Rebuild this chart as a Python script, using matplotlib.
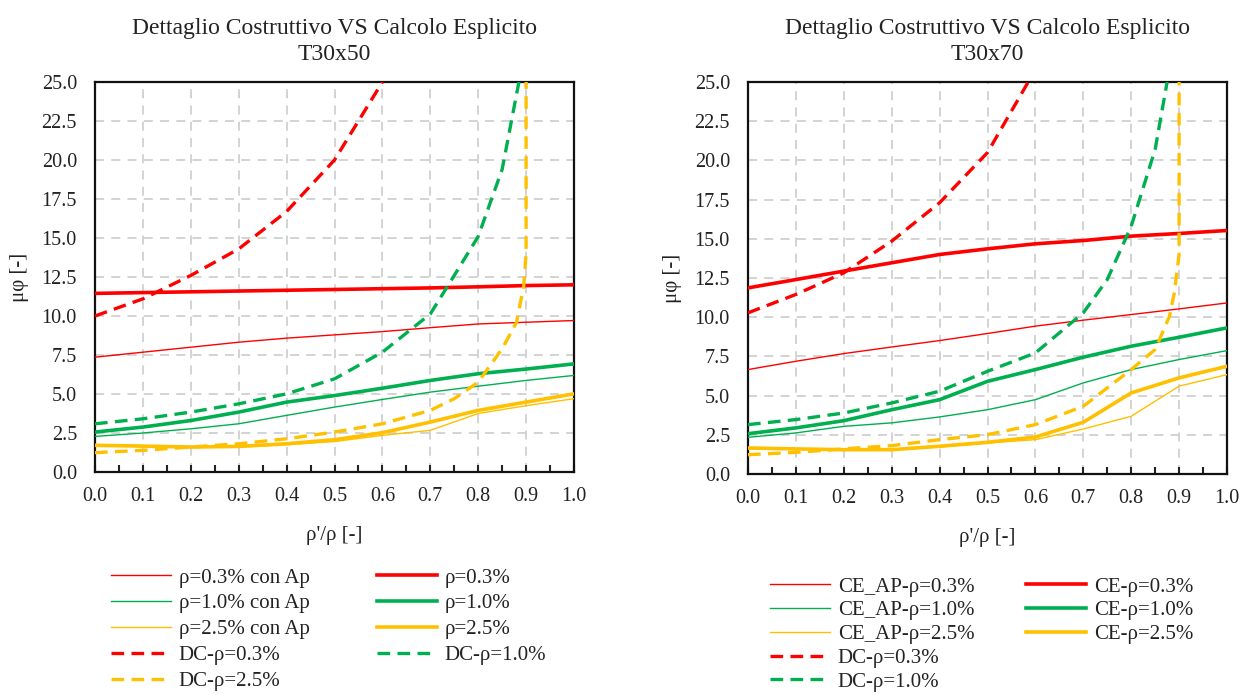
import matplotlib.pyplot as plt
from matplotlib.ticker import MultipleLocator

plt.rcParams['font.family'] = ['Liberation Serif', 'DejaVu Serif']

RED, GREEN, YELLOW = "#FF0000", "#00B050", "#FFC000"

rho_ratio = [0.0, 0.1, 0.2, 0.3, 0.4, 0.5, 0.6, 0.7, 0.8, 0.9, 1.0]

# --- T30x50 ---
t50_ce_03 = [11.45, 11.5, 11.55, 11.6, 11.65, 11.7, 11.75, 11.8, 11.87, 11.95, 12.0]
t50_ce_10 = [2.56, 2.88, 3.3, 3.84, 4.48, 4.9, 5.37, 5.87, 6.3, 6.6, 6.93]
t50_ce_25 = [1.71, 1.66, 1.6, 1.64, 1.81, 2.07, 2.52, 3.2, 3.95, 4.48, 5.01]
t50_ap_03 = [7.36, 7.68, 8.0, 8.32, 8.58, 8.79, 9.0, 9.25, 9.49, 9.6, 9.71]
t50_ap_10 = [2.28, 2.5, 2.77, 3.09, 3.63, 4.16, 4.65, 5.12, 5.5, 5.87, 6.19]
t50_ap_25 = [1.7, 1.65, 1.6, 1.6, 1.75, 1.95, 2.35, 2.67, 3.75, 4.25, 4.7]

t50_dc_03_x = [0.0, 0.1, 0.2, 0.3, 0.4, 0.5, 0.6]
t50_dc_03 = [10.0, 11.1, 12.6, 14.3, 16.7, 20.0, 25.0]
t50_dc_10_x = [0.0, 0.1, 0.2, 0.3, 0.4, 0.5, 0.6, 0.7, 0.75, 0.8, 0.85, 0.885]
t50_dc_10 = [3.09, 3.41, 3.84, 4.37, 5.01, 5.97, 7.68, 10.13, 12.6, 15.1, 19.4, 25.0]
t50_dc_25_x = [0.0, 0.1, 0.2, 0.3, 0.4, 0.5, 0.6, 0.7, 0.75, 0.8, 0.85, 0.88, 0.895, 0.9, 0.9]
t50_dc_25 = [1.24, 1.39, 1.6, 1.81, 2.13, 2.56, 3.09, 3.95, 4.7, 5.76, 7.9, 9.6, 11.9, 14.0, 25.0]

# --- T30x70 ---
t70_ce_03 = [11.87, 12.4, 12.94, 13.47, 14.0, 14.36, 14.68, 14.89, 15.17, 15.34, 15.53]
t70_ce_10 = [2.57, 2.94, 3.4, 4.1, 4.74, 5.91, 6.66, 7.45, 8.15, 8.72, 9.32]
t70_ce_25 = [1.66, 1.6, 1.55, 1.55, 1.77, 2.02, 2.36, 3.3, 5.17, 6.13, 6.87]
t70_ap_03 = [6.66, 7.19, 7.68, 8.1, 8.51, 8.96, 9.43, 9.81, 10.17, 10.53, 10.91]
t70_ap_10 = [2.34, 2.62, 3.04, 3.26, 3.64, 4.1, 4.74, 5.81, 6.66, 7.3, 7.87]
t70_ap_25 = [1.6, 1.58, 1.55, 1.55, 1.72, 1.98, 2.19, 2.87, 3.68, 5.6, 6.34]

t70_dc_03_x = [0.0, 0.1, 0.2, 0.3, 0.4, 0.5, 0.585]
t70_dc_03 = [10.28, 11.45, 12.83, 14.85, 17.3, 20.5, 25.0]
t70_dc_10_x = [0.0, 0.1, 0.2, 0.3, 0.4, 0.5, 0.6, 0.7, 0.75, 0.8, 0.85, 0.875]
t70_dc_10 = [3.15, 3.47, 3.89, 4.53, 5.28, 6.55, 7.72, 10.28, 12.4, 15.8, 20.7, 25.0]
t70_dc_25_x = [0.0, 0.1, 0.2, 0.3, 0.4, 0.5, 0.6, 0.7, 0.8, 0.85, 0.88, 0.89, 0.9, 0.9]
t70_dc_25 = [1.23, 1.38, 1.6, 1.81, 2.19, 2.51, 3.15, 4.32, 6.66, 7.94, 10.06, 11.55, 14.0, 25.0]

THIN, THICK, DASH = 1.0, 2.6, 2.4
dash = (0, (3.8, 2.2))

W, H = 1242, 695
fig = plt.figure(figsize=(W / 100, H / 100), dpi=100)
# posizione assi in pixel: sinistra, alto, destra, basso
ax1 = fig.add_axes([95 / W, 1 - 472 / H, 479 / W, 390 / H])
ax2 = fig.add_axes([748 / W, 1 - 474 / H, 479 / W, 392 / H])


def draw(ax, title, ce, ap, dc):
    h = {}
    for key, ys, c in zip(("ap03", "ap10", "ap25"), ap, (RED, GREEN, YELLOW)):
        h[key], = ax.plot(rho_ratio, ys, color=c, lw=THIN, zorder=3)
    for key, ys, c in zip(("ce03", "ce10", "ce25"), ce, (RED, GREEN, YELLOW)):
        h[key], = ax.plot(rho_ratio, ys, color=c, lw=THICK, zorder=4)
    for key, (xs, ys), c in zip(("dc03", "dc10", "dc25"), dc, (RED, GREEN, YELLOW)):
        h[key], = ax.plot(xs, ys, color=c, lw=DASH, ls=dash, zorder=5)

    ax.set_xlim(0, 1)
    ax.set_ylim(0, 25)
    ax.xaxis.set_major_locator(MultipleLocator(0.1))
    ax.xaxis.set_minor_locator(MultipleLocator(0.05))
    ax.yaxis.set_major_locator(MultipleLocator(2.5))
    ax.xaxis.set_major_formatter(lambda v, p: f"{v:.1f}")
    ax.yaxis.set_major_formatter(lambda v, p: f"{v:.1f}")
    ax.tick_params(axis="x", which="both", direction="in", length=5, width=1.5,
                   labelsize=14.5, pad=11, colors="#222222", labelcolor="#222222")
    ax.tick_params(axis="y", length=0, labelsize=14.5, pad=13, labelcolor="#222222")
    ax.grid(True, which="major", color="#D0D0D0", ls=(0, (5, 4)), lw=1.3)
    for s in ax.spines.values():
        s.set_linewidth(1.6)
        s.set_color("#111111")
    ax.set_title(title, fontsize=17, pad=16, linespacing=1.3, color="#222222")
    ax.set_xlabel("ρ'/ρ [-]", fontsize=15, labelpad=14, color="#222222")
    ax.set_ylabel("μφ [-]", fontsize=15, labelpad=9, color="#222222")
    return h


h1 = draw(ax1, "Dettaglio Costruttivo VS Calcolo Esplicito\nT30x50",
          (t50_ce_03, t50_ce_10, t50_ce_25),
          (t50_ap_03, t50_ap_10, t50_ap_25),
          ((t50_dc_03_x, t50_dc_03), (t50_dc_10_x, t50_dc_10), (t50_dc_25_x, t50_dc_25)))
h2 = draw(ax2, "Dettaglio Costruttivo VS Calcolo Esplicito\nT30x70",
          (t70_ce_03, t70_ce_10, t70_ce_25),
          (t70_ap_03, t70_ap_10, t70_ap_25),
          ((t70_dc_03_x, t70_dc_03), (t70_dc_10_x, t70_dc_10), (t70_dc_25_x, t70_dc_25)))

leg_kw = dict(loc="upper left", frameon=False, fontsize=15, handlelength=2.9,
              handletextpad=0.35, borderpad=0, borderaxespad=0, labelcolor="#222222")

# legenda T30x50, due colonne
fig.legend([h1[k] for k in ("ap03", "ap10", "ap25", "dc03", "dc25")],
           ["ρ=0.3% con Ap", "ρ=1.0% con Ap", "ρ=2.5% con Ap", "DC-ρ=0.3%", "DC-ρ=2.5%"],
           bbox_to_anchor=(111 / W, 1 - 568 / H), labelspacing=0.3, **leg_kw)
fig.legend([h1[k] for k in ("ce03", "ce10", "ce25", "dc10")],
           ["ρ=0.3%", "ρ=1.0%", "ρ=2.5%", "DC-ρ=1.0%"],
           bbox_to_anchor=(377 / W, 1 - 568 / H), labelspacing=0.3, **leg_kw)

# legenda T30x70
fig.legend([h2[k] for k in ("ap03", "ap10", "ap25", "dc03", "dc10")],
           ["CE_AP-ρ=0.3%", "CE_AP-ρ=1.0%", "CE_AP-ρ=2.5%", "DC-ρ=0.3%", "DC-ρ=1.0%"],
           bbox_to_anchor=(770 / W, 1 - 577 / H), labelspacing=0.2, **leg_kw)
fig.legend([h2[k] for k in ("ce03", "ce10", "ce25")],
           ["CE-ρ=0.3%", "CE-ρ=1.0%", "CE-ρ=2.5%"],
           bbox_to_anchor=(1026 / W, 1 - 577 / H), labelspacing=0.2, **leg_kw)

fig.savefig("out.png", dpi=100)
